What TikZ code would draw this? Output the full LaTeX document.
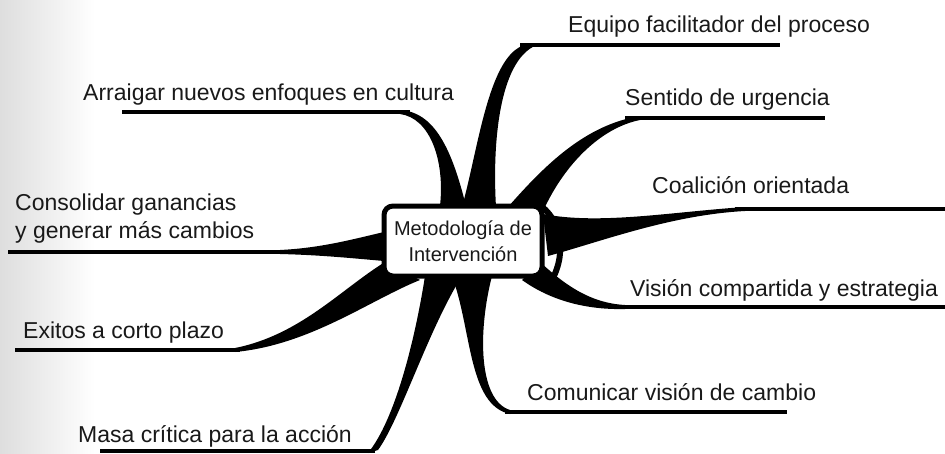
\documentclass[tikz,border=0pt]{standalone}
\usepackage{fontspec}
\setmainfont{Liberation Sans}
\begin{document}
\begin{tikzpicture}[x=1pt,y=-1pt,
  lab/.style={anchor=base west, inner sep=0pt, text=black!90, font=\fontsize{23}{28}\selectfont},
  br/.style={fill=black},
  uline/.style={line width=4pt, line cap=butt},
  hub/.style={draw=black, line width=5pt, fill=white, rounded corners=9pt, minimum width=158pt, minimum height=70pt, align=center, inner sep=2pt, font=\fontsize{20}{26}\selectfont, text=black!90}]
\useasboundingbox (0,0) rectangle (945,453);
\shade[left color=black!13, right color=white] (0,0) rectangle (95,453);

% end coordinates of branches / underlines
\coordinate (e1a) at (520,45);  \coordinate (e1b) at (780,45);
\coordinate (e2a) at (625,118); \coordinate (e2b) at (825,118);
\coordinate (e3a) at (735,209); \coordinate (e3b) at (945,209);
\coordinate (e4a) at (610,307); \coordinate (e4b) at (945,307);
\coordinate (e5a) at (505,412); \coordinate (e5b) at (787,412);
\coordinate (e6a) at (375,451); \coordinate (e6b) at (100,451);
\coordinate (e7a) at (240,350); \coordinate (e7b) at (15,350);
\coordinate (e8a) at (300,252); \coordinate (e8b) at (8,252);
\coordinate (e9a) at (410,112); \coordinate (e9b) at (122,112);

% tapered branches
% 1 Equipo
\fill[br] (462,207) .. controls (478,150) and (488,60) .. (522,46)
  -- (540,44) .. controls (500,55) and (492,140) .. (496,207) -- cycle;
% 2 Sentido
\fill[br] (508,207) .. controls (545,165) and (585,125) .. (640,116)
  -- (640,120) .. controls (600,128) and (565,165) .. (545,207) -- cycle;
% 3 Coalicion
\fill[br] (543,214) .. controls (600,225) and (670,212) .. (745,207)
  -- (745,211) .. controls (670,215) and (600,242) .. (548,256) -- cycle;
% 4 Vision
\fill[br] (540,262) .. controls (565,285) and (590,303) .. (625,305)
  -- (625,309) .. controls (585,310) and (550,300) .. (522,280) -- cycle;
% 5 Comunicar
\fill[br] (452,276) .. controls (472,330) and (468,405) .. (510,414)
  -- (510,410) .. controls (478,400) and (478,330) .. (492,276) -- cycle;
% 6 Masa
\fill[br] (425,276) .. controls (415,340) and (395,420) .. (368,453)
  -- (378,450) .. controls (400,420) and (428,330) .. (462,276) -- cycle;
% 7 Exitos
\fill[br] (385,262) .. controls (340,290) and (300,335) .. (235,348)
  -- (235,352) .. controls (310,345) and (370,300) .. (420,280) -- cycle;
% 8 Consolidar
\fill[br] (384,232) .. controls (350,240) and (320,248) .. (280,250)
  -- (280,254) .. controls (320,255) and (350,258) .. (384,261) -- cycle;
% 9 Arraigar
\fill[br] (440,206) .. controls (445,160) and (430,118) .. (400,114)
  -- (400,110) .. controls (435,112) and (452,150) .. (466,206) -- cycle;
% lens on the right side of the hub
\draw[line width=6pt] (541,206) .. controls (566,225) and (566,265) .. (545,290);

% underlines
\draw[uline] (e1a) -- (e1b);
\draw[uline] (e2a) -- (e2b);
\draw[uline] (e3a) -- (e3b);
\draw[uline] (e4a) -- (e4b);
\draw[uline] (e5a) -- (e5b);
\draw[uline, line width=3.5pt] (e6a) -- (e6b);
\draw[uline, line width=4.5pt] (e7a) -- (e7b);
\draw[uline] (e8a) -- (e8b);
\draw[uline] (e9a) -- (e9b);

% hub
\node[hub] (hub) at (463,241) {Metodología de\\Intervención};

% labels
\node[lab] (l1) at (568,32) {Equipo facilitador del proceso};
\node[lab] (l2) at (625,105) {Sentido de urgencia};
\node[lab] (l3) at (652,193) {Coalición orientada};
\node[lab] (l4) at (630,296) {Visión compartida y estrategia};
\node[lab] (l5) at (527,400) {Comunicar visión de cambio};
\node[lab] (l6) at (78,442) {Masa crítica para la acción};
\node[lab] (l7) at (23,338) {Exitos a corto plazo};
\node[lab, align=left] (l8) at (15,238) {Consolidar ganancias\\y generar más cambios};
\node[lab] (l9) at (83,100) {Arraigar nuevos enfoques en cultura};
\end{tikzpicture}
\end{document}
